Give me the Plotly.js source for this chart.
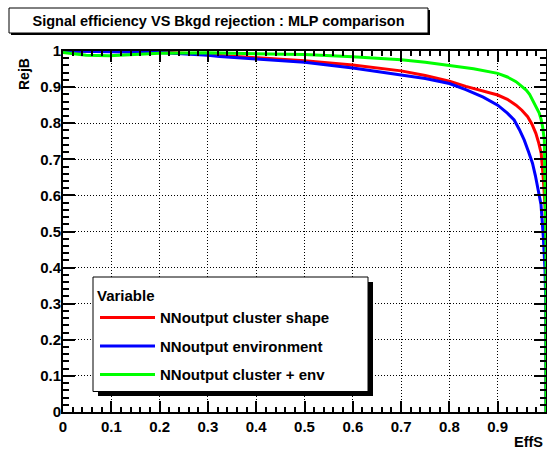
<!DOCTYPE html>
<html>
<head>
<meta charset="utf-8">
<script src="https://cdn.plot.ly/plotly-3.0.1.min.js"></script>
<style>
html,body{margin:0;padding:0;background:#fff;}
#chart{width:547px;height:451px;}
</style>
</head>
<body>
<div id="chart"></div>
<script>
// ---- data ----
const seriesNames = ["NNoutput cluster shape", "NNoutput environment", "NNoutput cluster + env"];

const effS_shape = [0, 0.1, 0.2, 0.25, 0.3, 0.4, 0.5, 0.6, 0.7, 0.75, 0.8, 0.834, 0.87, 0.9, 0.92, 0.938, 0.95, 0.962, 0.971, 0.979, 0.985, 0.990, 0.9946, 0.998, 0.9995, 1.0, 1.0];
const rejB_shape = [1.0, 0.999, 0.997, 0.994, 0.990, 0.983, 0.973, 0.961, 0.945, 0.932, 0.916, 0.902, 0.890, 0.878, 0.866, 0.850, 0.836, 0.818, 0.797, 0.772, 0.745, 0.717, 0.643, 0.569, 0.45, 0.30, 0.0];

const effS_env = [0, 0.1, 0.2, 0.3, 0.324, 0.4, 0.5, 0.6, 0.7, 0.75, 0.8, 0.834, 0.87, 0.9, 0.92, 0.934, 0.945, 0.955, 0.964, 0.972, 0.978, 0.983, 0.9896, 0.9944, 0.998, 0.9995, 1.0];
const rejB_env = [1.0, 0.999, 0.996, 0.988, 0.985, 0.978, 0.969, 0.953, 0.935, 0.924, 0.910, 0.893, 0.872, 0.850, 0.828, 0.809, 0.782, 0.753, 0.720, 0.689, 0.655, 0.624, 0.575, 0.486, 0.393, 0.30, 0.0];

const effS_comb = [0, 0.048, 0.096, 0.144, 0.2, 0.3, 0.4, 0.5, 0.6, 0.7, 0.75, 0.8, 0.85, 0.9, 0.92, 0.938, 0.95, 0.959, 0.966, 0.972, 0.98, 0.986, 0.99, 0.993, 0.9965, 0.998, 0.9995, 1.0, 1.0];
const rejB_comb = [0.996, 0.988, 0.987, 0.990, 0.994, 0.995, 0.993, 0.990, 0.984, 0.976, 0.969, 0.961, 0.951, 0.938, 0.928, 0.915, 0.903, 0.892, 0.880, 0.864, 0.845, 0.828, 0.810, 0.790, 0.753, 0.660, 0.55, 0.45, 0.0];

const seriesColors = ["#ff0000", "#0000ff", "#00ff00"];

const xTickVals = [0, 0.1, 0.2, 0.3, 0.4, 0.5, 0.6, 0.7, 0.8, 0.9, 1];
const yTickVals = [0, 0.1, 0.2, 0.3, 0.4, 0.5, 0.6, 0.7, 0.8, 0.9, 1];

const chartTitle = "Signal efficiency VS Bkgd rejection : MLP comparison";
const xTitle = "EffS";
const yTitle = "RejB";
const legendTitle = "Variable";

// ---- layout helpers ----
const W = 547, H = 451;
const M = {l: 63, r: 1, t: 51, b: 39};
const PW = W - M.l - M.r, PH = H - M.t - M.b;
const px2x = p => (p - M.l) / PW;
const py2y = p => (H - M.b - p) / PH;

const FONT = "Liberation Sans, Arial, Helvetica, sans-serif";

const xs = [effS_shape, effS_env, effS_comb];
const ys = [rejB_shape, rejB_env, rejB_comb];

const traces = seriesNames.map((n, i) => ({
  type: "scatter",
  mode: "lines",
  name: n,
  x: xs[i],
  y: ys[i],
  legendgroup: "g" + i,
  line: {color: seriesColors[i], width: 3},
  hoverinfo: "skip"
}));

const axisCommon = {
  range: [0, 1],
  showline: true,
  linecolor: "#000",
  linewidth: 2,
  mirror: "allticks",
  ticks: "inside",
  tickwidth: 2,
  tickcolor: "#000",
  showgrid: true,
  gridcolor: "#000",
  gridwidth: 1,
  griddash: "1px,2px",
  zeroline: false,
  tickfont: {family: FONT, size: 15, color: "#000", weight: 700},
  fixedrange: true
};

const layout = {
  width: W, height: H,
  margin: M,
  paper_bgcolor: "#fff",
  plot_bgcolor: "#fff",
  title: {
    text: chartTitle,
    font: {family: FONT, size: 14.5, color: "#000", weight: 700},
    x: 218.5 / W, xref: "container", xanchor: "center",
    y: 1 - 21 / H, yref: "container", yanchor: "middle"
  },
  xaxis: Object.assign({}, axisCommon, {
    tickmode: "array", tickvals: xTickVals,
    ticklen: 11,
    minor: {dtick: 0.02, tick0: 0, ticklen: 5, tickwidth: 2, tickcolor: "#000", ticks: "inside", showgrid: false}
  }),
  yaxis: Object.assign({}, axisCommon, {
    tickmode: "array", tickvals: yTickVals,
    ticklen: 12,
    ticklabelstandoff: -3,
    minor: {dtick: 0.02, tick0: 0, ticklen: 6, tickwidth: 2, tickcolor: "#000", ticks: "inside", showgrid: false}
  }),
  showlegend: true,
  legend: {
    x: px2x(95), xanchor: "left",
    y: py2y(267.5), yanchor: "top",
    bgcolor: "rgba(0,0,0,0)",
    borderwidth: 0,
    font: {family: FONT, size: 15, color: "#000", weight: 700},
    title: {text: '<span style="font-size:15px">' + legendTitle + '</span>',
            font: {family: FONT, size: 26, color: "#000", weight: 700}},
    traceorder: "grouped",
    tracegroupgap: 6,
    itemwidth: 55
  },
  shapes: [
    // title box shadow + box
    {type: "rect", xref: "paper", yref: "paper", layer: "above",
     x0: px2x(11), x1: px2x(430), y0: py2y(10), y1: py2y(35),
     fillcolor: "#000", line: {width: 0}},
    {type: "rect", xref: "paper", yref: "paper", layer: "above",
     x0: px2x(9), x1: px2x(428), y0: py2y(8), y1: py2y(33),
     fillcolor: "#fff", line: {color: "#000", width: 1}},
    // legend box shadow + box
    {type: "rect", xref: "paper", yref: "paper", layer: "above",
     x0: px2x(98), x1: px2x(373), y0: py2y(282), y1: py2y(396),
     fillcolor: "#000", line: {width: 0}},
    {type: "rect", xref: "paper", yref: "paper", layer: "above",
     x0: px2x(93), x1: px2x(368), y0: py2y(277), y1: py2y(391.5),
     fillcolor: "#fff", line: {color: "#000", width: 1}}
  ],
  annotations: [
    {text: xTitle, xref: "paper", yref: "paper", x: px2x(545), y: py2y(442),
     xanchor: "right", yanchor: "middle", showarrow: false,
     font: {family: FONT, size: 14.5, color: "#000", weight: 700}},
    {text: yTitle, xref: "paper", yref: "paper", x: px2x(24), y: py2y(74),
     xanchor: "center", yanchor: "middle", showarrow: false, textangle: -90,
     font: {family: FONT, size: 14, color: "#000", weight: 700}}
  ]
};

Plotly.newPlot("chart", traces, layout, {displayModeBar: false, staticPlot: true});
</script>
</body>
</html>
